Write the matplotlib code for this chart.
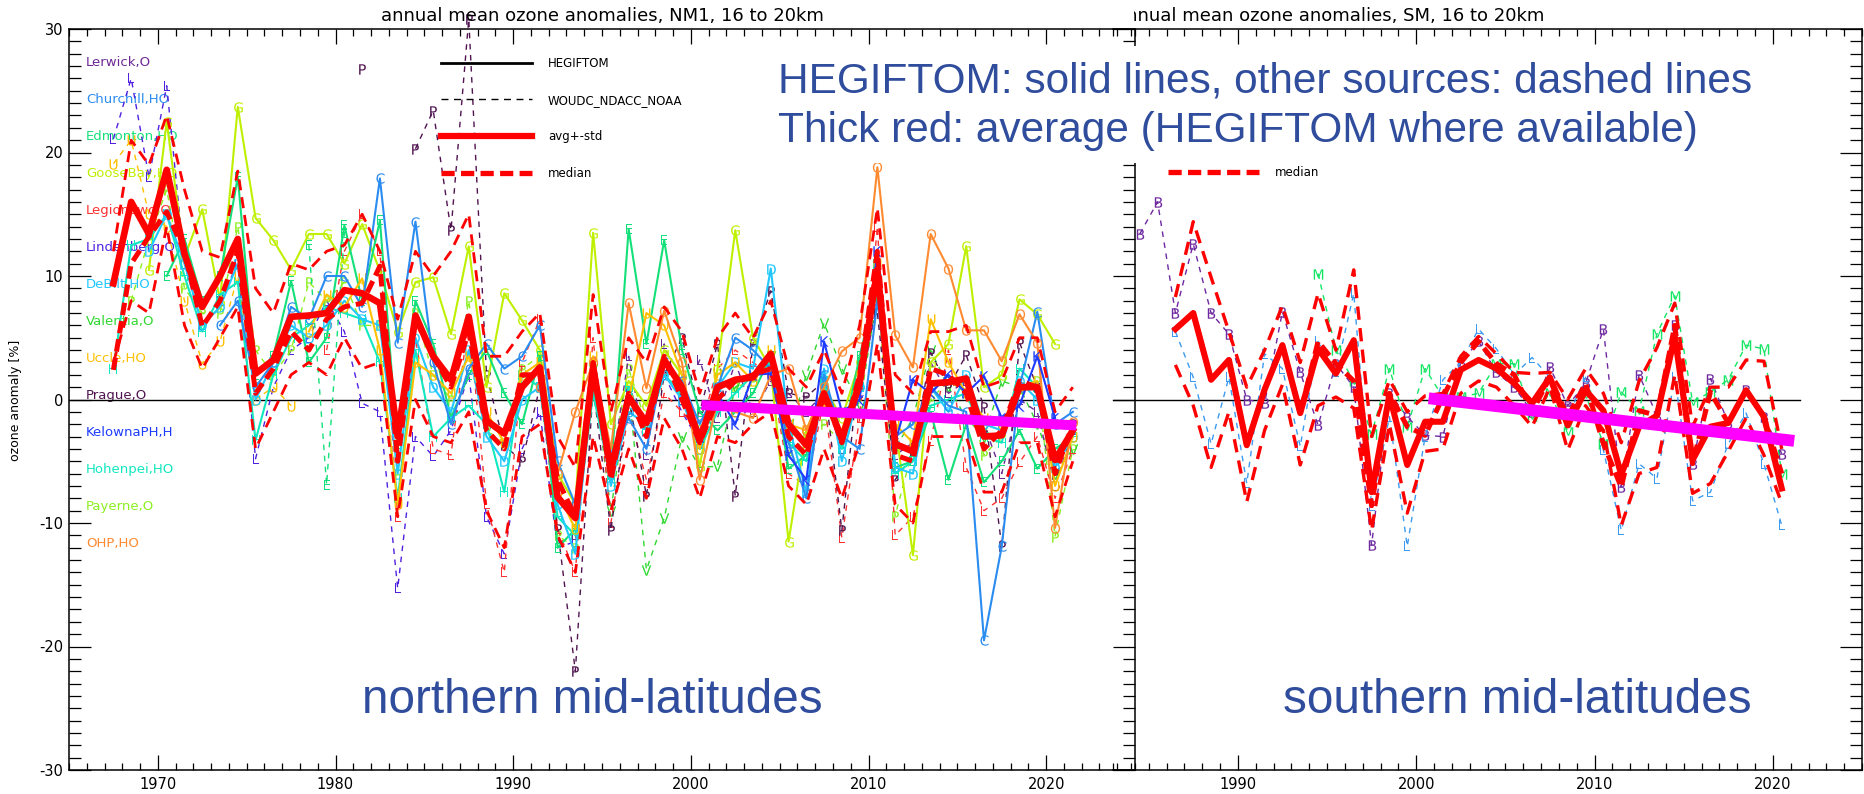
import numpy as np
import matplotlib
matplotlib.use("Agg")
import matplotlib.pyplot as plt
from matplotlib.lines import Line2D
from matplotlib.patches import Rectangle
from matplotlib.ticker import MultipleLocator
from matplotlib.transforms import Bbox

plt.rcParams['font.family'] = ['DejaVu Sans']
plt.rcParams['axes.unicode_minus'] = False

# ---------------- northern mid-latitudes (annual means, plotted at mid-year) ----------------
nm_first = 1967
nm_avg = [9.4, 16.0, 13.4, 18.6, 11.8, 7.5, 10.0, 13.0, 2.1, 3.2,
          6.7, 6.8, 7.0, 8.85, 8.6, 7.8, -3.0, 6.8, 3.5, 1.6,
          6.7, -1.7, -2.75, 1.0, 2.6, -7.9, -9.6, 2.6, -5.7, 0.2,
          -1.9, 3.2, 1.0, -3.3, 1.0, 1.6, 1.8, 3.7, -2.0, -3.7,
          0.5, -3.2, 1.3, 10.5, -3.6, -4.2, 1.3, 1.4, 1.7, -3.0,
          -2.9, 1.0, 1.0, -4.9, -2.5]
nm_median = [2.4, 11.0, 13.2, 15.2, 12.0, 5.9, 8.0, 12.0, 0.5, 2.5,
             5.5, 4.0, 6.5, 7.5, 7.8, 10.8, -5.0, 6.5, 3.5, 1.0,
             5.5, -2.5, -4.0, 2.0, 2.0, -6.5, -9.5, 3.0, -6.5, 0.5,
             -3.0, 3.5, 0.0, -3.5, 0.0, 1.5, 2.0, 2.5, -3.0, -4.5,
             0.5, -3.5, 2.0, 12.0, -4.5, -5.0, 2.5, 2.0, 0.5, -4.0,
             -2.5, 1.5, 1.0, -6.0, -2.0]
nm_upper = [12.0, 21.0, 19.0, 23.0, 17.0, 12.0, 11.5, 18.5, 9.0, 7.0,
            11.0, 10.5, 12.0, 12.5, 15.0, 12.0, 6.5, 12.0, 10.0, 12.0,
            15.0, 3.5, 3.5, 5.5, 7.0, -3.0, -5.5, 8.5, -1.0, 5.0,
            3.0, 7.5, 5.5, 0.5, 5.0, 7.0, 5.0, 8.0, 2.5, 1.0,
            4.0, 0.5, 6.0, 15.5, 2.0, 0.5, 5.5, 5.5, 6.0, 1.0,
            1.5, 5.0, 5.0, -1.0, 1.0]
nm_lower = [3.0, 8.0, 7.0, 14.0, 6.0, 2.5, 5.0, 7.5, -4.0, -1.0,
            2.0, 3.0, 2.0, 5.0, 2.5, 3.0, -9.5, 0.0, -3.0, -3.5,
            -1.0, -9.0, -12.0, -3.0, -2.0, -11.0, -14.0, -3.0, -9.0, -4.0,
            -8.0, -1.5, -4.0, -8.0, -3.0, -3.5, -2.0, -1.0, -7.0, -8.5,
            -4.0, -8.0, -3.5, 4.5, -8.5, -10.0, -3.0, -3.0, -3.0, -7.5,
            -7.5, -3.5, -3.5, -9.5, -5.0]

lerwick_start = 1993
lerwick = [-11.0, 1.5, -6.0, 3.5, -4.5, 4.5, 0.0, 3.2, -1.5, 3.0,
           -1.0, 1.5, 0.5, -1.0, 0.5, -4.0, 0.5, 8.0, -4.5, -3.5,
           3.0, 0.5, 1.5, -2.0, -6.0, 0.0, -1.0, -7.0, -2.5]
churchill_start = 1973
churchill = [6.0, 8.0, 1.0, 3.0, 7.5, 6.5, 10.0, 10.0, 7.5, 17.9,
             4.6, 14.4, 3.0, -2.0, 2.5, 4.5, 2.5, 3.5, 6.0, -5.0,
             -8.5, 1.5, -4.5, -1.5, -4.0, 3.0, 1.5, -2.0, 1.0, 5.0,
             4.0, 2.5, -3.5, -8.0, 2.0, -3.0, -4.0, 8.0, -3.0, -2.0,
             1.0, -0.5, -1.0, -19.5, -11.9, 1.0, 7.1, -2.0, -1.0]
edmonton_start = 1970
edmonton = [10.0, 13.0, 8.0, 10.0, 18.0, 2.0, 3.5, 9.6, 3.0, 5.0,
            14.1, 8.0, 14.5, -4.0, 8.0, 4.5, -1.5, 2.0, 4.0, 0.5,
            -2.0, 3.5, -12.0, -10.5, 1.0, -6.0, 13.8, 4.5, 12.9, 4.0,
            -1.0, -2.5, -1.0, 0.5, 3.5, -5.6, -4.5, 1.5, -3.5, 3.5,
            9.5, -5.5, -5.0, -1.0, -6.5, -2.0, -6.7, -5.0, -2.5, -5.6,
            -4.0, -3.0]
edmonton_o_start = 1978
edmonton_o = [12.5, -6.9, 13.5]
goosebay_start = 1969
goosebay = [10.5, 22.5, 11.5, 15.4, 8.0, 23.7, 14.7, 12.9, 10.5, 13.4,
            13.4, 11.0, 14.2, 10.4, 5.5, 9.5, 9.9, 5.3, 12.4, 1.0,
            8.6, 6.4, 4.0, -6.0, -8.5, 13.5, -2.0, 1.5, -0.5, 4.0,
            2.0, -5.4, 2.5, 13.7, 5.0, 2.5, -11.5, -2.5, 1.0, -1.5,
            3.0, 9.0, -2.0, -12.6, 3.0, 4.5, 12.4, 1.0, 2.0, 8.1,
            6.9, 4.5]
legionowo_start = 1979
legionowo = [4.0, 12.0, 15.0, 12.0, -9.5, 5.0, -4.0, -4.5, 6.5, -8.5,
             -14.0, 3.0, 6.5, -10.5, -14.0, 5.0, -10.0, -1.0, -6.5, 0.5,
             -1.0, -2.5, 2.5, 4.0, 3.0, 2.0, -6.0, -7.0, 0.0, -11.2,
             -1.5, 14.0, -11.0, -9.5, -3.4, 4.0, -5.5, -9.0, -8.0, -5.1,
             -3.0, -8.0, -4.0]
lindenberg_start = 1967
lindenberg = [21.1, 26.0, 18.0, 25.4, 11.0, 6.0, 8.0, 11.0, -4.8, 1.0,
              4.0, 5.0, 8.0, 5.5, -0.3, -1.0, -15.3, -3.0, -4.6, -2.5,
              2.0, -9.5, -12.5, -4.0, -1.0, -12.0, -11.5, 1.5, -5.0, 1.0,
              -2.0, 2.0, -1.0, -3.5]
debilt_start = 1969
debilt = [12, 15, 11, 6, 7.5, 11, 0, 3, 6, 5,
          6, 8, 6.5, 6, -6, 5, 1, -1, 4, -3,
          -5, 0, 1, -8.5, -12.5, 2, -7, -1, -2, 2,
          0, -4, 1, 3, 2.5, 10.6, -2, -7.5, 2.5, -5,
          1, 10, -5.5, -6, 1, -1, 2, -2, -2.5, 1.5,
          0, -5.5, -3]
valentia_start = 1994
valentia = [2.5, -9.0, 1.0, -13.8, -9.6, -3.0, -5.5, -5.4, 1.0, 2.0,
            3.5, -3.0, 2.0, 6.2, 2.5, -0.5, 8.5, -4.0, -1.5, 4.0,
            1.0, -1.5, -3.0, 1.5, 1.0, -2.0, -6.0, -4.0]
uccle_o_start = 1967
uccle_o = [19.1, 21.0, 15.0, 14.0, 8.0, 2.9, 4.7, 10.0, 0.0, 1.0, -0.5]
uccle_start = 1978
uccle = [5.5, 8.5, 7.5, 9.8, 4.0, -8.5, 3.0, 2.0, 0.5, 3.5,
         -1.0, -3.5, 2.0, 3.0, -7.5, -10.5, 3.5, -5.0, 0.0, 7.0,
         6.0, 2.0, -4.0, 2.0, 3.0, 1.5, 4.0, -2.0, -2.5, -0.5,
         -2.5, 2.0, 11.0, -2.0, -3.5, 6.5, 3.0, 0.5, -1.5, -2.0,
         1.0, 1.5, -7.0, -3.0]
prague_start = 1981
prague = [26.8, np.nan, np.nan, 20.3, 23.4, 13.7, 30.8, 2.0, -3.7, -5.0,
          1.0, -10.5, -22.0, 1.0, -10.6, 0.2, -7.8, 2.0, 5.0, -1.0,
          4.5, -7.8, 4.5, 8.8, 0.5, 0.2, 1.5, -10.6, 3.0, 7.0,
          -6.5, -4.5, 3.8, 1.0, 3.6, -0.6, -11.9, 4.6, 1.0, -6.0,
          -2.0]
kelowna_start = 2000
kelowna = [-3.0, 0.5, -2.0, 2.0, 2.1, -4.5, -6.5, 4.7, -1.0, 0.0,
           12.0, -3.5, 1.6, 0.5, 2.0, 0.5, 1.9, -1.5, -0.5, 3.5,
           -1.5]
hohenpei_start = 1967
hohenpei = [2.5, 12.5, 13.0, 15.0, 10.0, 5.5, 8.5, 9.5, -3.3, 2.0,
            5.0, 6.0, 7.5, 7.0, 6.5, 3.0, -8.0, 4.0, -3.0, -1.5,
            -0.5, -2.0, -7.5, 2.0, 1.0, -9.5, -11.0, 0.5, -6.5, 1.0,
            -2.5, 2.0, 0.5, -4.0, -1.0, 0.5, 2.0, 3.0, -3.5, -5.0,
            1.5, -4.0, 1.0, 11.0, -6.0, -5.0, -0.5, 0.0, 0.5, -3.0,
            -3.5, 2.5, 1.0, -5.0, -3.0]
payerne_start = 1968
payerne = [8, 13, 17, 9, 7, 7, 14, 4, 2, 4,
           9.5, 8, 9.5, 6, 6, -6, 7, 2, 0, 8,
           -2.5, -3.5, 2.5, 3.5, -11, -12, 3, -5.5, 2.5, -2,
           3, 0.5, -2.5, 1, 1, 1.5, 3, -4.5, -3, -2,
           -3.5, 1, 9, -9.4, -4, 0, 1.5, 0.5, -4.5, -3,
           0.5, 1.5, -11.1, -4]
ohp_start = 1991
ohp = [1.0, -6.0, -1.0, 3.0, -4.0, 7.8, 0.9, 7.2, 3.0, -6.5,
       0.0, -1.0, -1.5, 2.0, 2.5, -2.5, 1.0, 3.9, 5.0, 18.8,
       5.2, 2.6, 13.4, 10.6, 5.6, 5.6, 3.1, 6.9, 4.6, -10.4,
       -1.8]

# ---------------- southern mid-latitudes ----------------
sm_first = 1986
sm_avg = [5.7, 7.0, 1.6, 3.2, -3.7, 0.8, 4.4, -1.1, 4.1, 2.1,
          4.8, -7.5, 0.35, -5.3, -1.8, -1.8, 2.4, 3.2, 2.5, 1.3,
          -0.3, 1.8, -2.1, 0.75, -0.9, -6.1, -2.2, -1.3, 5.1, -4.9,
          -2.2, -1.9, 0.75, -1.4, -7.2]
sm_median = [5.7, 7.0, 1.6, 3.2, -3.7, 0.8, 4.4, -1.1, 4.7, 2.9,
             1.5, -8.6, 0.5, -2.2, -2.9, 0.2, 3.0, 4.7, 2.9, 2.0,
             -1.0, 1.8, -1.4, 1.3, -3.6, -7.1, -0.9, -1.3, 6.0, -5.2,
             0.6, -1.9, 0.75, -1.4, -6.0]
sm_upper = [8.3, 14.4, 9.9, 5.5, 1.0, 4.0, 7.6, 3.0, 8.6, 4.0,
            10.5, -3.0, 1.6, -1.0, 0.3, 0.5, 3.5, 5.1, 3.7, 2.2,
            2.1, 2.2, 0.0, 2.5, 0.5, -3.5, 1.5, 4.2, 7.8, -2.2,
            1.0, 1.0, 3.2, 3.1, -4.0]
sm_lower = [2.8, -0.5, -5.5, -1.0, -8.3, -2.5, 1.2, -5.3, -0.5, 0.2,
            -0.7, -10.6, -2.0, -9.2, -4.2, -4.0, 0.5, 1.5, 1.0, -0.5,
            -2.2, 1.0, -4.1, -0.5, -2.5, -10.2, -6.0, -5.5, 2.0, -7.6,
            -6.8, -4.2, -1.5, -4.5, -8.4]
sm_b_start = 1984
sm_b = [13.4, 16.0, 7.0, 12.6, 7.0, 5.3, 0.0, -0.3, 7.1, 2.2,
        -2.1, 2.9, 1.0, -11.8, 0.5, -1.4, -2.9, -3.0, 3.0, 4.7,
        2.2, 1.0, -1.0, 2.6, -0.5, 1.3, 5.7, -7.1, 2.0, -1.3,
        6.0, -5.2, 1.7, -1.9, 0.75, -1.4, -4.4]
sm_l_start = 1986
sm_l = [5.5, 1.8, -3.6, 1.8, -6.8, 3.7, 2.5, -3.8, 4.7, 2.2,
        8.6, -8.6, -1.4, -11.9, -3.0, 1.6, 3.0, 5.7, 4.1, 2.0,
        3.4, 1.8, -1.4, 1.8, -4.1, -10.6, -5.2, -6.4, 1.8, -8.2,
        -7.5, -3.6, -1.1, -5.2, -10.2]
sm_m_start = 1994
sm_m = [10.2, 4.0, 1.5, -2.8, 2.5, -2.2, 2.5, 0.2, 0.2, 0.5,
        2.9, 2.9, -1.3, 0.5, -2.6, 0.4, -3.6, 0.6, -0.9, 5.3,
        8.4, -0.2, 0.6, 1.6, 4.4, 4.1, -6.0]

# hand-drawn trend lines (magenta)
nm_trend_x = [2000.6, 2021.7]
nm_trend_y = [-0.45, -2.1]
sm_trend_x = [2000.7, 2021.2]
sm_trend_y = [0.1, -3.35]
zero_end = 2021.5

nm_names = ['Lerwick,O', 'Churchill,HO', 'Edmonton,HO', 'GooseBay,HO', 'Legionowo,O',
            'Lindenberg,O', 'DeBilt,HO', 'Valentia,O', 'Uccle,HO', 'Prague,O',
            'KelownaPH,H', 'Hohenpei,HO', 'Payerne,O', 'OHP,HO']
nm_colors = ['#6E2896', '#2A8CF0', '#14E07A', '#BEF000', '#FF3030',
             '#5020E0', '#20C8FF', '#30D830', '#FFC000', '#501450',
             '#1E3CFF', '#10E8C0', '#8CF020', '#FF8A30']

# (start, values, colour index, letter, dashed)
nm_series = [
    (lindenberg_start, lindenberg, 5, 'L', True),
    (uccle_o_start, uccle_o, 8, 'U', True),
    (payerne_start, payerne, 12, 'P', True),
    (valentia_start, valentia, 7, 'V', True),
    (lerwick_start, lerwick, 0, 'L', True),
    (legionowo_start, legionowo, 4, 'L', True),
    (prague_start, prague, 9, 'P', True),
    (edmonton_o_start, edmonton_o, 2, 'E', True),
    (goosebay_start, goosebay, 3, 'G', False),
    (edmonton_start, edmonton, 2, 'E', False),
    (hohenpei_start, hohenpei, 11, 'H', False),
    (debilt_start, debilt, 6, 'D', False),
    (uccle_start, uccle, 8, 'U', False),
    (churchill_start, churchill, 1, 'C', False),
    (ohp_start, ohp, 13, 'O', False),
    (kelowna_start, kelowna, 10, 'K', False),
]
sm_series = [
    (sm_b_start, sm_b, '#6E28A0', 'B', True),
    (sm_l_start, sm_l, '#3C9BF0', 'L', True),
    (sm_m_start, sm_m, '#14E664', 'M', True),
]

W, H = 1865, 794
fig = plt.figure(figsize=(W / 100, H / 100), dpi=100)
ax1 = fig.add_axes([69 / W, 24 / H, 1066 / W, 741 / H])
ax2 = fig.add_axes([1113 / W, 24 / H, 749 / W, 741 / H])
ax2.patch.set_alpha(0)


def draw_station(ax, start, vals, color, letter, dashed):
    x = np.arange(len(vals)) + start + 0.5
    ax.plot(x, np.array(vals, dtype=float), color=color,
            lw=1.0 if dashed else 1.5, ls=(0, (4, 4)) if dashed else '-',
            marker='$\\mathrm{%s}$' % letter, ms=7.5, mew=0,
            zorder=2, clip_on=False)


def draw_stats(ax, first, avg, med, up, lo, lw_avg, lw_std):
    x = np.arange(len(avg)) + first + 0.5
    ax.plot(x, up, color='#FF0000', lw=lw_std, ls=(0, (4, 2.5)), zorder=3)
    ax.plot(x, lo, color='#FF0000', lw=lw_std, ls=(0, (4, 2.5)), zorder=3)
    ax.plot(x, med, color='#FF0000', lw=3.6, ls=(0, (2.5, 1.2)), zorder=3)
    ax.plot(x, avg, color='#FF0000', lw=lw_avg, zorder=3.5)


for start, vals, ci, letter, dashed in nm_series:
    draw_station(ax1, start, vals, nm_colors[ci], letter, dashed)
draw_stats(ax1, nm_first, nm_avg, nm_median, nm_upper, nm_lower, 4.8, 2.0)
ax1.plot(nm_trend_x, nm_trend_y, color='#FF00FF', lw=7.2, solid_capstyle='butt', zorder=4)

for start, vals, color, letter, dashed in sm_series:
    draw_station(ax2, start, vals, color, letter, dashed)
draw_stats(ax2, sm_first, sm_avg, sm_median, sm_upper, sm_lower, 4.4, 2.4)
ax2.plot(sm_trend_x, sm_trend_y, color='#FF00FF', lw=8.5, solid_capstyle='butt', zorder=4)

ax1.plot([1965, zero_end], [0, 0], color='black', lw=1.0, zorder=1.5)
ax2.plot([1983, zero_end], [0, 0], color='black', lw=1.0, zorder=1.5, clip_on=False)

# station names down the left side
for i, (name, col) in enumerate(zip(nm_names, nm_colors)):
    ax1.text(1965.95, 27.3 - 3.0 * i, name, color=col, fontsize=9.5,
             va='center', ha='left', zorder=1)

# axes styling
ax1.set_xlim(1965, 2025)
ax2.set_xlim(1983, 2025)
for ax in (ax1, ax2):
    ax.set_ylim(-30, 30)
    ax.xaxis.set_major_locator(MultipleLocator(10))
    ax.xaxis.set_minor_locator(MultipleLocator(1))
    ax.yaxis.set_major_locator(MultipleLocator(10))
    ax.yaxis.set_minor_locator(MultipleLocator(1))
    ax.tick_params(axis='x', which='major', direction='in', length=10.8, width=0.9,
                   top=True, bottom=True, labelsize=10.5, pad=5)
    ax.tick_params(axis='x', which='minor', direction='in', length=5, width=0.9,
                   top=True, bottom=True)
    ax.tick_params(axis='y', which='major', direction='in', length=15.8, width=0.9,
                   labelsize=10.5, pad=4)
    ax.tick_params(axis='y', which='minor', direction='in', length=8.6, width=0.9)
    for s in ax.spines.values():
        s.set_linewidth(1.1)
ax1.tick_params(axis='y', which='both', left=True, right=True)
ax2.tick_params(axis='y', which='both', left=False, right=True, labelleft=False)
ax2.spines['left'].set_visible(False)

# legends: full one on the left; on the right only the "median" row is visible
h_heg = Line2D([], [], color='black', lw=2.0)
h_oth = Line2D([], [], color='black', lw=1.0, ls=(0, (5, 4)))
h_avg = Line2D([], [], color='#FF0000', lw=4.5)
h_med = Line2D([], [], color='#FF0000', lw=3.8, ls=(0, (2.5, 1.2)))
leg_kw = dict(loc='upper left', frameon=False, fontsize=8.5, handlelength=7.7,
              handletextpad=1.35, labelspacing=2.0, borderpad=0, borderaxespad=0,
              bbox_transform=fig.transFigure)
leg1 = ax1.legend([h_heg, h_oth, h_avg, h_med],
                  ['HEGIFTOM', 'WOUDC_NDACC_NOAA', 'avg+-std', 'median'],
                  bbox_to_anchor=(441 / W, 1 - 57 / H), **leg_kw)
leg1.set_zorder(2.5)
leg2 = ax2.legend([h_med], ['median'], bbox_to_anchor=(1168 / W, 1 - 166 / H), **leg_kw)
leg2.set_zorder(2.5)

fig.text(16 / W, 1 - 400 / H, 'ozone anomaly [%]', rotation=90, ha='center', va='center',
         fontsize=9)

fig.text(602 / W, 1 - 21 / H, 'annual mean ozone anomalies, NM1, 16 to 20km',
         ha='center', va='baseline', fontsize=13)
t2 = fig.text(1544 / W, 1 - 21 / H, 'annual mean ozone anomalies, SM, 16 to 20km',
              ha='right', va='baseline', fontsize=13)
t2.set_clip_on(True)
t2.set_clip_box(Bbox.from_extents(1134, 0, W, H))

# annotation box + notes
fig.add_artist(Rectangle((770 / W, 1 - 163 / H), 1030 / W, 117 / H, transform=fig.transFigure,
                         facecolor='white', edgecolor='none', zorder=5))
blue = '#2F4D9C'
fig.text(778 / W, 1 - 92 / H, 'HEGIFTOM: solid lines, other sources: dashed lines',
         color=blue, fontsize=30.5, family='Liberation Sans', va='baseline', zorder=6)
fig.text(778 / W, 1 - 142 / H, 'Thick red: average (HEGIFTOM where available)',
         color=blue, fontsize=30.5, family='Liberation Sans', va='baseline', zorder=6)
fig.text(362 / W, 1 - 713 / H, 'northern mid-latitudes', color=blue, fontsize=34.3,
         family='Liberation Sans', va='baseline', zorder=6)
fig.text(1283 / W, 1 - 713 / H, 'southern mid-latitudes', color=blue, fontsize=34.3,
         family='Liberation Sans', va='baseline', zorder=6)

fig.savefig('out.png', dpi=100, facecolor='white')
